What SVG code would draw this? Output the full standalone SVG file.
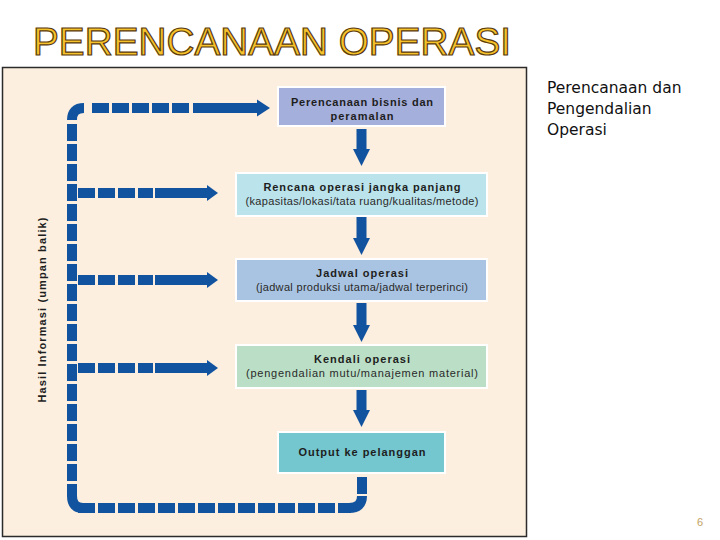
<svg xmlns="http://www.w3.org/2000/svg" width="720" height="540" viewBox="0 0 720 540">
  <style>
    .title { font-family: "Liberation Sans", Arial, sans-serif; font-size: 38px; fill: #F6C22B; stroke: #5A3A0E; stroke-width: 1.2; }
    .bt { font-family: "Liberation Sans", Arial, sans-serif; font-size: 11px; font-weight: bold; fill: #1E1E1E; text-anchor: middle; }
    .st { font-family: "Liberation Sans", Arial, sans-serif; font-size: 11px; fill: #2A2A2A; text-anchor: middle; }
    .side { font-family: "DejaVu Sans", sans-serif; font-size: 15.5px; fill: #111; }
    .box { stroke: #FFFFFF; stroke-width: 2; }
    .dash { fill: none; stroke: #1253A0; stroke-width: 10; stroke-dasharray: 17 3; }
    .solid { fill: none; stroke: #1253A0; stroke-width: 10; }
    .head { fill: #1253A0; }
    .corner { fill: none; stroke: #1253A0; stroke-width: 10; }
  </style>

  <rect x="0" y="0" width="720" height="540" fill="#FFFFFF"/>
  <text class="title" x="33" y="55" textLength="478" lengthAdjust="spacingAndGlyphs">PERENCANAAN OPERASI</text>

  <rect x="2.5" y="67.5" width="524" height="469" fill="#FCEFDF" stroke="#2B2B2B" stroke-width="1.5"/>

  <g id="connectors">
    <!-- feedback loop -->
    <path class="corner" d="M72 120 Q72 108 84 108"/>
    <line class="dash" x1="92" y1="108" x2="190" y2="108"/>
    <line class="solid" x1="193" y1="108" x2="258" y2="108"/>
    <polygon class="head" points="257,99.5 270,108 257,116.5"/>

    <line class="dash" x1="72" y1="124" x2="72" y2="496"/>
    <path class="corner" d="M72 496 Q72 508 83 508"/>
    <line class="dash" x1="78" y1="508" x2="351" y2="508"/>
    <path class="corner" d="M349 508 Q362 508 362 496"/>
    <line class="dash" x1="362" y1="494" x2="362" y2="473"/>

    <!-- side arrows -->
    <line class="dash" x1="78" y1="193" x2="153" y2="193"/>
    <line class="solid" x1="155" y1="193" x2="208" y2="193"/>
    <polygon class="head" points="207,185 218,193 207,201"/>

    <line class="dash" x1="78" y1="280" x2="153" y2="280"/>
    <line class="solid" x1="155" y1="280" x2="208" y2="280"/>
    <polygon class="head" points="207,272 218,280 207,288"/>

    <line class="dash" x1="78" y1="368" x2="153" y2="368"/>
    <line class="solid" x1="155" y1="368" x2="208" y2="368"/>
    <polygon class="head" points="207,360 218,368 207,376"/>

    <!-- down arrows -->
    <line class="solid" x1="361.5" y1="129" x2="361.5" y2="150"/>
    <polygon class="head" points="353,149 370,149 361.5,166"/>
    <line class="solid" x1="361.5" y1="217" x2="361.5" y2="239"/>
    <polygon class="head" points="353,238 370,238 361.5,255"/>
    <line class="solid" x1="361.5" y1="303" x2="361.5" y2="326"/>
    <polygon class="head" points="353,325 370,325 361.5,342"/>
    <line class="solid" x1="361.5" y1="390" x2="361.5" y2="411"/>
    <polygon class="head" points="353,410 370,410 361.5,427"/>
  </g>

  <g id="node-perencanaan">
    <rect class="box" x="278" y="87" width="167" height="39" fill="#A5AFDC"/>
    <text class="bt" x="362" y="106" textLength="142" lengthAdjust="spacing">Perencanaan bisnis dan</text>
    <text class="bt" x="362" y="120" textLength="63" lengthAdjust="spacing">peramalan</text>
  </g>

  <g id="node-rencana">
    <rect class="box" x="236" y="173" width="251" height="43" fill="#BAE3EC"/>
    <text class="bt" x="362" y="191" textLength="197" lengthAdjust="spacing">Rencana operasi jangka panjang</text>
    <text class="st" x="362" y="205" textLength="233" lengthAdjust="spacing">(kapasitas/lokasi/tata ruang/kualitas/metode)</text>
  </g>

  <g id="node-jadwal">
    <rect class="box" x="236" y="259" width="251" height="42" fill="#A9C4E2"/>
    <text class="bt" x="362" y="277" textLength="92" lengthAdjust="spacing">Jadwal operasi</text>
    <text class="st" x="362" y="291" textLength="212" lengthAdjust="spacing">(jadwal produksi utama/jadwal terperinci)</text>
  </g>

  <g id="node-kendali">
    <rect class="box" x="236" y="345" width="251" height="43" fill="#BADFC6"/>
    <text class="bt" x="362" y="363" textLength="96" lengthAdjust="spacing">Kendali operasi</text>
    <text class="st" x="362" y="377" textLength="232" lengthAdjust="spacing">(pengendalian mutu/manajemen material)</text>
  </g>

  <g id="node-output">
    <rect class="box" x="278" y="432" width="167" height="41" fill="#74C7CF"/>
    <text class="bt" x="362" y="456" textLength="127" lengthAdjust="spacing">Output ke pelanggan</text>
  </g>

  <g id="label-feedback">
    <text class="bt" transform="translate(46 310) rotate(-90)" textLength="185" lengthAdjust="spacing">Hasil Informasi (umpan balik)</text>
  </g>

  <g id="side-text">
    <text class="side" x="547" y="93">Perencanaan dan</text>
    <text class="side" x="547" y="114">Pengendalian</text>
    <text class="side" x="547" y="135">Operasi</text>
  </g>

  <text x="697" y="526" font-family="Liberation Sans, Arial, sans-serif" font-size="11" fill="#C2A265">6</text>
</svg>
